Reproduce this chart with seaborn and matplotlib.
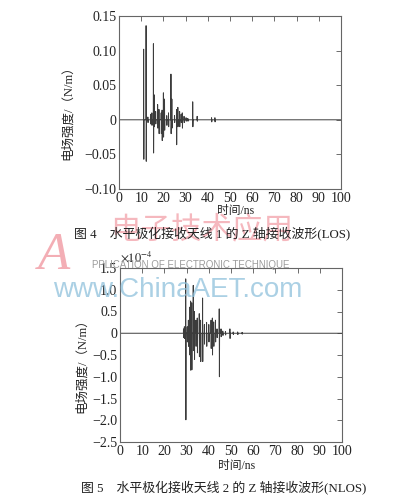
import matplotlib
matplotlib.use("Agg")
import matplotlib.pyplot as plt
import numpy as np
import pandas as pd
import seaborn as sns

# ---------------- data ----------------
# Figure 4 (LOS): impulse times (ns) and positive / negative peak (N/m)
los_t = [11.1, 12.2, 13.0, 14.2, 14.8, 15.5, 15.9, 16.5, 17.4, 18.0, 19.0, 19.4,
         20.0, 20.5, 21.5, 22.3, 23.4, 23.8, 25.0, 25.9, 26.5, 27.3, 28.0, 28.5,
         29.3, 30.2, 31.0, 33.2, 35.2, 41.7, 43.2]
los_up = [0.102, 0.136, 0.004, 0.008, 0.010, 0.110, 0.036, 0.012, 0.022, 0.015, 0.010, 0.014,
          0.039, 0.030, 0.006, 0.010, 0.066, 0.030, 0.006, 0.015, 0.018, 0.012, 0.008, 0.010,
          0.005, 0.003, 0.002, 0.026, 0.005, 0.003, 0.003]
los_dn = [-0.057, -0.060, -0.004, -0.006, -0.008, -0.048, -0.010, -0.006, -0.012, -0.020, -0.020, -0.030,
          -0.025, -0.015, -0.008, -0.010, -0.020, -0.012, -0.004, -0.036, -0.010, -0.010, -0.004, -0.012,
          -0.004, -0.002, -0.002, -0.010, -0.002, -0.003, -0.003]

# Figure 5 (NLOS): impulse times (ns) and peaks (x1e-4 N/m)
nlos_t = [28.6, 29.0, 29.6, 30.3, 30.8, 31.4, 31.8, 32.3, 33.0, 33.5, 34.2, 34.8,
          35.7, 36.3, 37.2, 38.0, 39.0, 40.0, 41.0, 41.6, 42.2, 43.0, 43.7, 44.7,
          45.5, 46.3, 47.5, 49.5, 51.0, 53.0, 55.0]
nlos_up = [0.10, 0.15, 1.25, 0.15, 0.30, 0.60, 0.74, 0.70, 1.10, 0.50, 0.30, 0.35,
           0.45, 0.30, 0.81, 0.20, 0.25, 0.20, 0.30, 0.35, 0.26, 0.30, 0.10, 0.56,
           0.10, 0.05, 0.04, 0.10, 0.03, 0.03, 0.02]
nlos_dn = [-0.10, -0.12, -1.99, -0.20, -0.30, -0.50, -0.85, -0.84, -0.40, -0.60, -0.30, -0.45,
           -0.54, -0.65, -0.65, -0.25, -0.30, -0.20, -0.35, -0.50, -0.30, -0.20, -0.10, -1.00,
           -0.08, -0.05, -0.04, -0.12, -0.03, -0.03, -0.02]

x_ticks = [0, 10, 20, 30, 40, 50, 60, 70, 80, 90, 100]
los_yticks = [-0.10, -0.05, 0, 0.05, 0.10, 0.15]
los_yticklabels = ["\u22120.10", "\u22120.05", "0", "0.05", "0.10", "0.15"]
nlos_yticks = [-2.5, -2.0, -1.5, -1.0, -0.5, 0, 0.5, 1.0, 1.5]
nlos_yticklabels = ["\u22122.5", "\u22122.0", "\u22121.5", "\u22121.0", "\u22120.5", "0", "0.5", "1.0", "1.5"]

xlabel = "时间/ns"
ylabel = "电场强度/（N/m）"
caption4 = "图 4    水平极化接收天线 1 的 Z 轴接收波形(LOS)"
caption5 = "图 5    水平极化接收天线 2 的 Z 轴接收波形(NLOS)"


def waveform(ts, ups, dns):
    xs, ys = [0.0], [0.0]
    for t, u, d in zip(ts, ups, dns):
        xs += [t - 0.05, t, t + 0.08, t + 0.16]
        ys += [0.0, u, d, 0.0]
    xs.append(100.0)
    ys.append(0.0)
    return pd.DataFrame({"t": xs, "v": ys})


sns.set_theme(style="white")
plt.rcParams["font.family"] = ["Liberation Serif", "Noto Sans CJK SC"]
plt.rcParams["mathtext.fontset"] = "stix"
plt.rcParams["axes.unicode_minus"] = True

W, H = 394, 499
fig = plt.figure(figsize=(W / 100, H / 100), dpi=100)
fig.patch.set_facecolor("white")

def fx(px):
    return px / W

def fy(py):
    return 1 - py / H

ax1 = fig.add_axes([fx(119), fy(189), fx(341) - fx(119), fy(16) - fy(189)])
ax2 = fig.add_axes([fx(120), fy(442), fx(342) - fx(120), fy(268) - fy(442)])

mix = ["Liberation Serif", "Noto Sans CJK SC"]

for ax, ts, ups, dns, yt, ytl, ylim in [
    (ax1, los_t, los_up, los_dn, los_yticks, los_yticklabels, (-0.10, 0.15)),
    (ax2, nlos_t, nlos_up, nlos_dn, nlos_yticks, nlos_yticklabels, (-2.5, 1.5)),
]:
    df = waveform(ts, ups, dns)
    sns.lineplot(data=df, x="t", y="v", ax=ax, sort=False, estimator=None,
                 color="#3c3c3c", linewidth=0.7)
    ax.set_xlim(0, 100)
    ax.set_ylim(*ylim)
    ax.set_xticks(x_ticks)
    ax.set_xticklabels([str(v) for v in x_ticks])
    ax.set_yticks(yt)
    ax.set_yticklabels(ytl)
    ax.set_xlabel("")
    ax.set_ylabel("")
    ax.tick_params(direction="in", top=True, right=True, length=3.5, width=0.6,
                   colors="#555555", labelcolor="#222222", labelsize=10, pad=2)
    for lab in ax.get_xticklabels() + ax.get_yticklabels():
        lab.set_family("Liberation Serif")
    for sp in ax.spines.values():
        sp.set_color("#666666")
        sp.set_linewidth(0.8)
    ax.set_facecolor("white")

# axis labels
fig.text(fx(236), fy(211), xlabel, ha="center", va="center", fontsize=8.5, family=mix, color="#222222")
fig.text(fx(237), fy(466), xlabel, ha="center", va="center", fontsize=8.5, family=mix, color="#222222")
fig.text(fx(68), fy(110), ylabel, ha="center", va="center", rotation=90, fontsize=9, family=mix, color="#222222")
fig.text(fx(82), fy(363), ylabel, ha="center", va="center", rotation=90, fontsize=9, family=mix, color="#222222")

# offset text for bottom axes
fig.text(fx(120), fy(257), r"$\times10^{-4}$", ha="left", va="center", fontsize=9, color="#222222")

# watermark
fig.text(fx(38), fy(256), "A", ha="left", va="center", fontsize=38, style="italic",
         family="Liberation Serif", color="#f19aa3", alpha=0.8, zorder=0)
fig.text(fx(202), fy(230), "电子技术应用", ha="center", va="center", fontsize=22,
         family="Noto Sans CJK SC", color="#f29aa3", alpha=0.7, zorder=0)
fig.text(fx(191), fy(265), "PPLICATION OF ELECTRONIC TECHNIQUE", ha="center", va="center",
         fontsize=7, family="Liberation Sans", color="#9c9c9c", zorder=5)
fig.text(fx(178), fy(290), "www.ChinaAET.com", ha="center", va="center", fontsize=20,
         family="Liberation Sans", color="#8fc1dc", alpha=0.75, zorder=5)

# captions
fig.text(fx(212), fy(233), caption4, ha="center", va="center", fontsize=9.3, family=mix, color="#222222", zorder=6)
fig.text(fx(224), fy(487), caption5, ha="center", va="center", fontsize=9.3, family=mix, color="#222222", zorder=6)

fig.savefig("out.png", dpi=100, facecolor="white")
